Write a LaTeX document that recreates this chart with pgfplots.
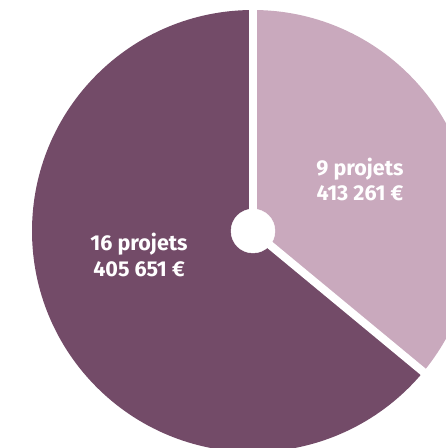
\documentclass[border=0pt]{standalone}
\usepackage{pgfplots}
\pgfplotsset{compat=1.18}
\usepackage{fontspec}
\setmainfont{Fira Sans}
\definecolor{darkplum}{HTML}{734B68}
\definecolor{lightplum}{HTML}{C9A9BD}
\begin{document}
\begin{tikzpicture}
% data: number of projects per slice
\def\na{9}
\def\nb{16}
\pgfmathsetmacro{\tot}{\na+\nb}
\pgfmathsetmacro{\aend}{90-360*\na/\tot}
\pgfmathsetmacro{\bend}{\aend+360}
\begin{axis}[
  scale only axis, width=446pt, height=448pt,
  xmin=0, xmax=446, ymin=0, ymax=448,
  hide axis, clip=true,
]
% light slice (9 projets)
\addplot[fill=lightplum, draw=none] coordinates {(253,217)} -- ++(90:221pt) arc[start angle=90, end angle=\aend, radius=221pt] -- cycle;
% dark slice (16 projets)
\addplot[fill=darkplum, draw=none] coordinates {(253,217)} -- ++(90:221pt) arc[start angle=90, end angle=\bend, radius=221pt] -- cycle;
% separators
\addplot[white, line width=8pt] coordinates {(253,217)} -- ++(90:240pt);
\addplot[white, line width=8pt] coordinates {(253,217)} -- ++(\aend:240pt);
\addplot[only marks, mark=*, mark size=22pt, white] coordinates {(253,217)};
\node[white, font=\bfseries\fontsize{21.5}{25.5}\selectfont, align=center] at (axis cs:360,268.5) {9 projets\\413 261 €};
\node[white, font=\bfseries\fontsize{21.5}{25.5}\selectfont, align=center] at (axis cs:139,193) {16 projets\\405 651 €};
\end{axis}
\pgfresetboundingbox
\path (current axis.south west) rectangle (current axis.north east);
\end{tikzpicture}
\end{document}
